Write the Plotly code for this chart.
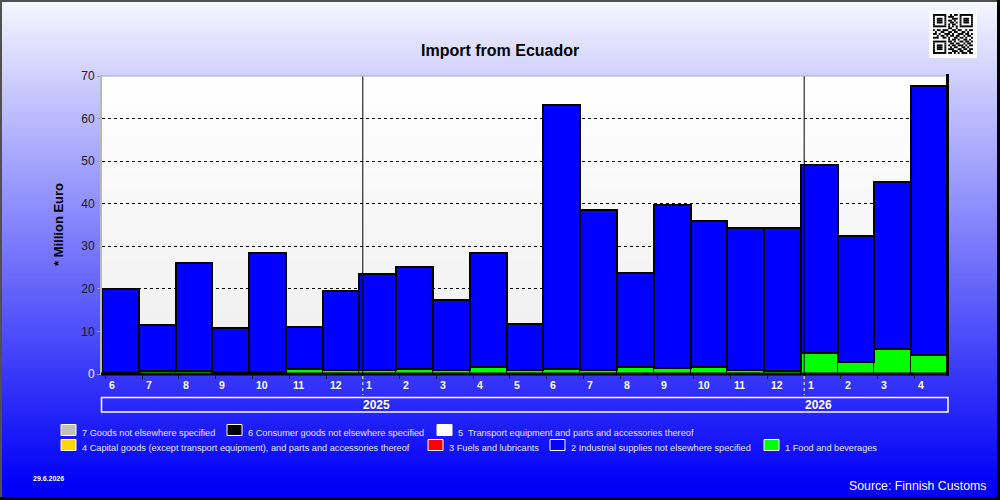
import base64
import struct
import zlib

import plotly.graph_objects as go

# ---------------- data ----------------
months = ["6", "7", "8", "9", "10", "11", "12",
          "1", "2", "3", "4", "5", "6", "7", "8", "9", "10", "11", "12",
          "1", "2", "3", "4"]
year_labels = ["2025", "2026"]
year_start_index = [7, 19]

food = [0.5, 0.8, 0.8, 0.5, 0.5, 1.2, 1.0, 1.0, 1.2, 1.0, 1.7, 1.0,
        1.1, 0.9, 1.7, 1.4, 1.7, 0.9, 0.7, 4.9, 2.8, 5.8, 4.4]
industrial = [19.5, 10.6, 25.3, 10.4, 28.0, 9.9, 18.6, 22.6, 24.0, 16.4, 26.8, 10.8,
              62.0, 37.7, 22.1, 38.2, 34.3, 33.5, 33.5, 44.3, 29.7, 39.4, 63.2]

legend_names = [
    "7 Goods not elsewhere specified",
    "6 Consumer goods not elsewhere specified",
    "5  Transport equipment and parts and accessories thereof",
    "4 Capital goods (except transport equipment), and parts and accessories thereof",
    "3 Fuels and lubricants",
    "2 Industrial supplies not elsewhere specified",
    "1 Food and beverages",
]
legend_colors = ["#c0c0c0", "#000000", "#ffffff", "#ffd700", "#ff0000", "#0000ff", "#00ff00"]

title = "Import from Ecuador"
y_title = "* Million Euro"
date_text = "29.6.2026"
source_text = "Source: Finnish Customs"

# ---------------- geometry helpers ----------------
W, H = 1000, 500
L, R, T, B = 102, 948, 76, 374
PW, PH = R - L, B - T


def xp(px):
    return (px - L) / PW


def yp(py):
    return (B - py) / PH


def png_uri(rows):
    w = 2
    raw = b"".join(b"\x00" + bytes(c) * w for c in rows)

    def chunk(tag, data):
        c = tag + data
        return struct.pack(">I", len(data)) + c + struct.pack(">I", zlib.crc32(c) & 0xffffffff)

    png = (b"\x89PNG\r\n\x1a\n"
           + chunk(b"IHDR", struct.pack(">IIBBBBB", w, len(rows), 8, 2, 0, 0, 0))
           + chunk(b"IDAT", zlib.compress(raw, 9))
           + chunk(b"IEND", b""))
    return "data:image/png;base64," + base64.b64encode(png).decode()


def lerp(c0, c1, t):
    t = max(0.0, min(1.0, t))
    return tuple(int(round(a + (b - a) * t)) for a, b in zip(c0, c1))


bg_rows = [lerp((246, 246, 255), (0, 0, 248), i / 485) for i in range(H)]
plot_rows = [lerp((255, 255, 255), (238, 238, 238), i / PH) for i in range(PH)]

FONT = "Liberation Sans, Arial, sans-serif"

fig = go.Figure()
x = list(range(len(months)))
fig.add_trace(go.Bar(x=x, y=food, name=legend_names[6],
                     marker=dict(color="#00ff00", line=dict(color="black", width=1)),
                     width=1, showlegend=False))
fig.add_trace(go.Bar(x=x, y=industrial, name=legend_names[5],
                     marker=dict(color="#0000ff", line=dict(color="black", width=2)),
                     width=1, showlegend=False))

shapes = []
annotations = []

# year divider lines
for idx in year_start_index:
    xv = idx - 0.5 + 0.09
    shapes.append(dict(type="line", xref="x", yref="y", x0=xv, x1=xv, y0=0, y1=70,
                       line=dict(color="black", width=1), layer="above"))
    shapes.append(dict(type="line", xref="x", yref="paper", x0=xv, x1=xv, y0=yp(376), y1=yp(395),
                       line=dict(color="white", width=1, dash="dot")))

# year band
shapes.append(dict(type="rect", xref="paper", yref="paper", x0=xp(101.5), x1=xp(948), y0=yp(397.5), y1=yp(412),
                   line=dict(color="white", width=1.5)))
for lab, idx in zip(year_labels, year_start_index):
    annotations.append(dict(text="<b>%s</b>" % lab, x=idx - 0.5, xref="x", y=yp(405), yref="paper",
                            xanchor="left", yanchor="middle", xshift=2, showarrow=False,
                            font=dict(family=FONT, size=12, color="white")))

# month labels
for i, m in enumerate(months):
    annotations.append(dict(text="<b>%s</b>" % m, x=i - 0.5, xref="x", y=yp(385), yref="paper",
                            xanchor="left", yanchor="middle", xshift=5, showarrow=False,
                            font=dict(family=FONT, size=10.5, color="white")))

# plot frame
shapes.append(dict(type="line", xref="paper", yref="paper", x0=xp(100), x1=xp(948), y0=yp(76), y1=yp(76),
                   line=dict(color="#a8a8a8", width=1)))
shapes.append(dict(type="line", xref="paper", yref="paper", x0=xp(101), x1=xp(101), y0=yp(76), y1=yp(375),
                   line=dict(color="#b8b8b8", width=2)))
shapes.append(dict(type="line", xref="paper", yref="paper", x0=xp(101), x1=xp(949), y0=yp(374), y1=yp(374),
                   line=dict(color="black", width=3)))
shapes.append(dict(type="line", xref="paper", yref="paper", x0=xp(947.5), x1=xp(947.5), y0=yp(74), y1=yp(375.5),
                   line=dict(color="black", width=3)))

# outer frame
shapes.append(dict(type="line", xref="paper", yref="paper", x0=xp(1), x1=xp(1), y0=yp(0), y1=yp(500),
                   line=dict(color="#505050", width=2)))
shapes.append(dict(type="line", xref="paper", yref="paper", x0=xp(0), x1=xp(1000), y0=yp(1), y1=yp(1),
                   line=dict(color="#505050", width=2)))
shapes.append(dict(type="line", xref="paper", yref="paper", x0=xp(998.5), x1=xp(998.5), y0=yp(0), y1=yp(500),
                   line=dict(color="black", width=3)))
shapes.append(dict(type="line", xref="paper", yref="paper", x0=xp(0), x1=xp(1000), y0=yp(498.5), y1=yp(498.5),
                   line=dict(color="black", width=3)))

# legend (manual)
legend_pos = [(61, 430), (227, 430), (437, 430), (61, 445), (428, 445), (550, 445), (764, 445)]
for name, col, (lx, ly) in zip(legend_names, legend_colors, legend_pos):
    shapes.append(dict(type="rect", xref="paper", yref="paper", x0=xp(lx), x1=xp(lx + 15),
                       y0=yp(ly - 5.5), y1=yp(ly + 5.5), fillcolor=col, line=dict(color="white", width=1)))
    annotations.append(dict(text=name, x=xp(lx + 19), xref="paper", y=yp(ly + 3), yref="paper",
                            xanchor="left", yanchor="middle", showarrow=False,
                            font=dict(family=FONT, size=9.2, color="#e4e4ff")))

# QR code (decoration)
qr = [
    "111111100101101111111",
    "100000101110001000001",
    "101110100011101011101",
    "101110101101001011101",
    "101110100110101011101",
    "100000101011001000001",
    "111111101010101111111",
    "000000001100100000000",
    "101101110011011001011",
    "010011001101100110100",
    "110100111010011101101",
    "001011010110110010110",
    "111001101001101101001",
    "000000001011010011010",
    "111111101101001101101",
    "100000100110110010110",
    "101110101011011101011",
    "101110100101100110100",
    "101110101110011011011",
    "100000100011101100110",
    "111111101101010111011",
]
shapes.append(dict(type="rect", xref="paper", yref="paper", x0=xp(929), x1=xp(977), y0=yp(10), y1=yp(58),
                   fillcolor="white", line=dict(width=0)))
mod = 1.9
qx0, qy0 = 933, 14
for r, row in enumerate(qr):
    c = 0
    while c < len(row):
        if row[c] == "1":
            s = c
            while c < len(row) and row[c] == "1":
                c += 1
            shapes.append(dict(type="rect", xref="paper", yref="paper",
                               x0=xp(qx0 + s * mod), x1=xp(qx0 + c * mod),
                               y0=yp(qy0 + r * mod), y1=yp(qy0 + (r + 1) * mod),
                               fillcolor="black", line=dict(width=0)))
        else:
            c += 1

# title and texts
annotations.append(dict(text="<b>%s</b>" % title, x=xp(500), y=yp(50), xref="paper", yref="paper",
                        xanchor="center", yanchor="middle", showarrow=False,
                        font=dict(family=FONT, size=16, color="black")))
annotations.append(dict(text="<b>%s</b>" % y_title, x=xp(58), y=yp(225), xref="paper", yref="paper",
                        xanchor="center", yanchor="middle", showarrow=False, textangle=-90,
                        font=dict(family=FONT, size=13, color="black")))
annotations.append(dict(text="<b>%s</b>" % date_text, x=xp(31), y=yp(478), xref="paper", yref="paper",
                        xanchor="left", yanchor="middle", showarrow=False,
                        font=dict(family=FONT, size=7, color="white")))
annotations.append(dict(text=source_text, x=xp(988), y=yp(486), xref="paper", yref="paper",
                        xanchor="right", yanchor="middle", showarrow=False,
                        font=dict(family=FONT, size=12.3, color="white")))

images = [
    dict(source=png_uri(bg_rows), xref="paper", yref="paper", x=xp(0), y=yp(0),
         sizex=W / PW, sizey=H / PH, sizing="stretch", xanchor="left", yanchor="top", layer="below"),
    dict(source=png_uri(plot_rows), xref="paper", yref="paper", x=0, y=1,
         sizex=1, sizey=1, sizing="stretch", xanchor="left", yanchor="top", layer="below"),
]

yticks = list(range(0, 80, 10))
ytext = ['<span style="color:#f0f0ff">0</span>'] + [str(v) for v in yticks[1:]]

fig.update_layout(
    width=W, height=H, autosize=False,
    margin=dict(l=L, r=W - R, t=T, b=H - B, pad=0),
    paper_bgcolor="#6060ff", plot_bgcolor="rgba(0,0,0,0)",
    barmode="stack", bargap=0,
    showlegend=False,
    shapes=shapes, annotations=annotations, images=images,
    font=dict(family=FONT),
    xaxis=dict(range=[-0.5, 22.5], tickvals=[i - 0.5 + 0.09 for i in x], ticktext=[""] * len(x),
               ticks="outside", ticklen=4, tickcolor="#202020", tickwidth=1,
               showgrid=False, zeroline=False, showline=False, fixedrange=True),
    yaxis=dict(range=[0, 70], tickvals=yticks, ticktext=ytext, ticks="outside", ticklen=4,
               tickcolor="#a0a0a0", showgrid=True, gridcolor="black", griddash="dot", gridwidth=1,
               zeroline=False, showline=False, tickfont=dict(size=12, color="#1a1a2a", family=FONT),
               fixedrange=True),
)

fig.write_html("out.html")
